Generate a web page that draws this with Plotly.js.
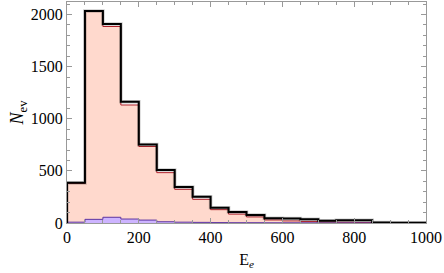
<!DOCTYPE html>
<html>
<head>
<meta charset="utf-8">
<script src="https://cdn.plot.ly/plotly-3.0.1.min.js"></script>
<style>html,body{margin:0;padding:0;background:#fff;}#chart{width:444px;height:273px;}</style>
</head>
<body>
<div id="chart"></div>
<script>
// Bin edges (E_e), width 50
var binEdges = [0,50,100,150,200,250,300,350,400,450,500,550,600,650,700,750,800,850,900,950,1000];
// Total (black outline)
var totalCounts = [385,2034,1909,1163,752,508,345,252,147,105,77,45,43,35,22,27,27,4,3,3];
// Filled salmon histogram
var redCounts   = [380,2030,1885,1132,734,483,323,227,128,85,58,29,20,15,10,7,5,2,1,1];
// Purple histogram
var purpleCounts= [8,35,55,38,28,12,8,6,4,3,3,2,2,2,1,1,1,1,1,1];

function stepXY(edges, counts){
  var x=[edges[0]], y=[0];
  for(var i=0;i<counts.length;i++){ x.push(edges[i]); y.push(counts[i]); }
  x.push(edges[edges.length-1]); y.push(counts[counts.length-1]);
  x.push(edges[edges.length-1]); y.push(0);
  return {x:x,y:y};
}
var r = stepXY(binEdges, redCounts);
var p = stepXY(binEdges, purpleCounts);
var t = stepXY(binEdges, totalCounts);

var traces = [
  {x:r.x, y:r.y, type:'scatter', mode:'lines', line:{shape:'hv', color:'#b0202a', width:1}, fill:'tozeroy', fillcolor:'rgb(255,217,205)', hoverinfo:'skip'},
  {x:p.x, y:p.y, type:'scatter', mode:'lines', line:{shape:'hv', color:'#5e35a0', width:1}, fill:'tozeroy', fillcolor:'rgb(205,180,255)', hoverinfo:'skip'},
  {x:t.x, y:t.y, type:'scatter', mode:'lines', line:{shape:'hv', color:'rgba(0,0,0,0.2)', width:3.6}, hoverinfo:'skip'},
  {x:t.x, y:t.y, type:'scatter', mode:'lines', line:{shape:'hv', color:'#000', width:2}, hoverinfo:'skip'}
];

var axFont = {family:'Liberation Serif, serif', size:16, color:'#000'};
var titleFont = {family:'Liberation Serif, serif', size:18, color:'#000'};
var layout = {
  width:444, height:273,
  margin:{l:67, r:18, t:2, b:50},
  paper_bgcolor:'#fff', plot_bgcolor:'#fff',
  showlegend:false,
  font:axFont,
  xaxis:{
    range:[0,1000], tickvals:[0,200,400,600,800,1000], ticks:'inside', ticklen:5, tickcolor:'#999',
    showline:true, linecolor:'#999', linewidth:1, mirror:'ticks', showgrid:false, zeroline:false,
    minor:{dtick:50, tick0:0, ticks:'inside', ticklen:3, tickcolor:'#999', showgrid:false},
    tickfont:axFont,
    title:{text:'E<sub><i>e</i></sub>', font:axFont, standoff:8}
  },
  yaxis:{
    range:[0,2120], tickvals:[0,500,1000,1500,2000], ticks:'inside', ticklen:5, tickcolor:'#999',
    showline:true, linecolor:'#999', linewidth:1, mirror:'ticks', showgrid:false, zeroline:false,
    minor:{dtick:100, tick0:0, ticks:'inside', ticklen:3, tickcolor:'#999', showgrid:false},
    tickfont:axFont,
    title:{text:'<i>N</i><sub>ev</sub>', font:titleFont, standoff:2}
  }
};
Plotly.newPlot('chart', traces, layout, {displayModeBar:false, staticPlot:true});
</script>
</body>
</html>
